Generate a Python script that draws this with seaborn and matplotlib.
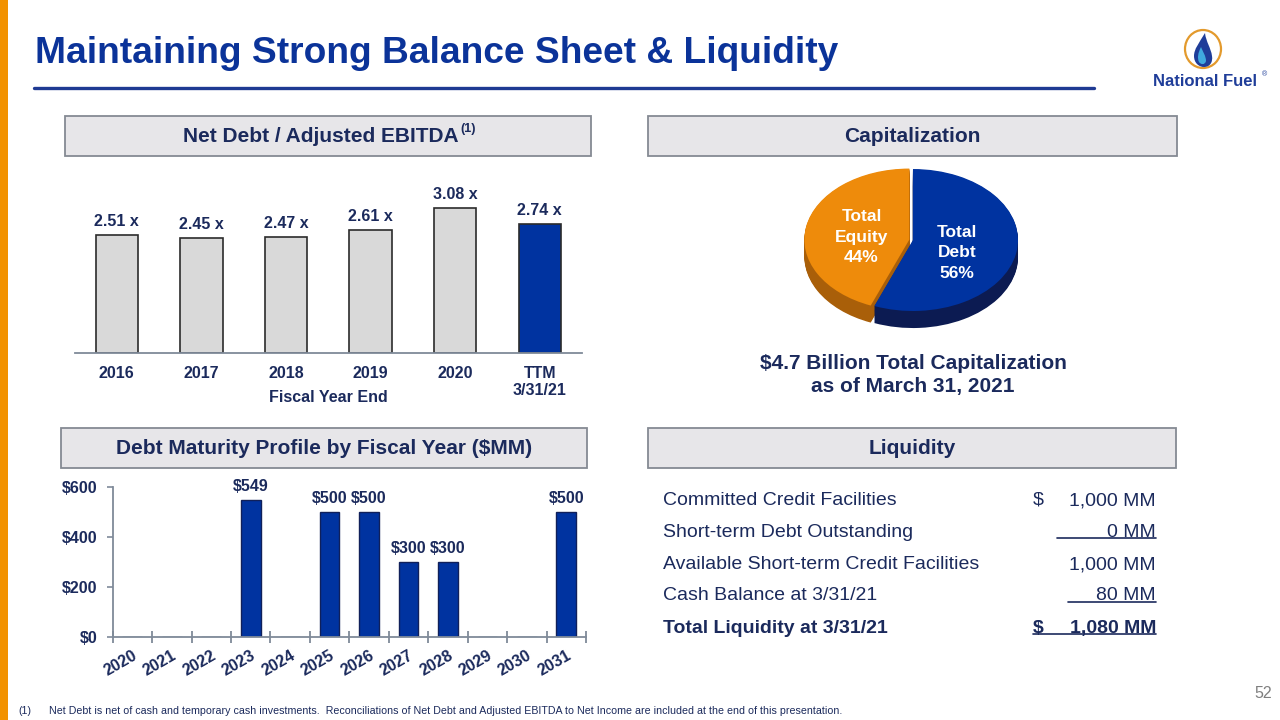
import numpy as np
import matplotlib
matplotlib.use("Agg")
import matplotlib.pyplot as plt
import seaborn as sns
from matplotlib.patches import Rectangle, Ellipse, PathPatch
from matplotlib.path import Path
from matplotlib.lines import Line2D

# --- data ---
ebitda_years = ["2016", "2017", "2018", "2019", "2020", "TTM\n3/31/21"]
ebitda_ratio = [2.51, 2.45, 2.47, 2.61, 3.08, 2.74]
ebitda_colors = ["#D9D9D9", "#D9D9D9", "#D9D9D9", "#D9D9D9", "#D9D9D9", "#0033A0"]

cap_names = ["Total\nDebt\n56%", "Total\nEquity\n44%"]
cap_share = [56, 44]

maturity_years = ["2020", "2021", "2022", "2023", "2024", "2025",
                  "2026", "2027", "2028", "2029", "2030", "2031"]
maturity_mm = [0, 0, 0, 549, 0, 500, 500, 300, 300, 0, 0, 500]
maturity_ticks = [0, 200, 400, 600]

liq_items = ["Committed Credit Facilities", "Short-term Debt Outstanding",
             "Available Short-term Credit Facilities", "Cash Balance at 3/31/21",
             "Total Liquidity at 3/31/21"]
liq_dollar = ["$", "", "", "", "$"]
liq_values = ["1,000 MM", "0 MM", "1,000 MM", "80 MM", "1,080 MM"]

NAVY = "#1B2A5C"
BLUE = "#0033A0"
TITLE_BLUE = "#0B3399"
ORANGE = "#EE8B0B"
AXIS = "#7F8A99"

sns.set_theme(style="white")
plt.rcParams["font.family"] = ["Liberation Sans", "DejaVu Sans"]

W, H = 1280, 720
fig = plt.figure(figsize=(12.8, 7.2), dpi=100)
fig.patch.set_facecolor("white")


def fx(x):
    return x / W


def fy(y):
    return 1 - y / H


def add_ax(x0, y0, x1, y1):
    return fig.add_axes([x0 / W, 1 - y1 / H, (x1 - x0) / W, (y1 - y0) / H])


def fig_line(x0, x1, y, lw=1.2, color=NAVY):
    fig.add_artist(Line2D([fx(x0), fx(x1)], [fy(y), fy(y)], color=color, lw=lw,
                          transform=fig.transFigure))


def header(x0, y0, x1, y1, text, cx=None):
    fig.add_artist(Rectangle((fx(x0), fy(y1)), (x1 - x0) / W, (y1 - y0) / H,
                             facecolor="#E7E6E9", edgecolor="#858A93", lw=1.3,
                             transform=fig.transFigure))
    fig.text(fx(cx if cx else (x0 + x1) / 2), fy((y0 + y1) / 2 + 1), text,
             ha="center", va="center", fontsize=15, fontweight="bold", color=NAVY)


# orange side strip, title, rule
fig.add_artist(Rectangle((0, 0), 8 / W, 1, facecolor="#F29200", edgecolor="none",
                         transform=fig.transFigure))
fig.text(fx(35), fy(63), "Maintaining Strong Balance Sheet & Liquidity",
         ha="left", va="baseline", fontsize=26.7, fontweight="bold", color=TITLE_BLUE)
fig_line(34, 1094, 88, lw=2.4, color="#1F3A93")

# logo
lax = add_ax(1140, 22, 1278, 98)
lax.set_xlim(1140, 1278)
lax.set_ylim(98, 22)
lax.axis("off")
lax.add_patch(Ellipse((1203, 49), 36, 38, facecolor="white", edgecolor="#E39A2D", lw=1.6))
drop = Path([(1205, 33), (1199, 43), (1194, 49), (1194, 56), (1194, 63), (1199, 67),
             (1204, 67), (1210, 67), (1213, 62), (1212, 56), (1211, 48), (1206, 42),
             (1205, 33)],
            [Path.MOVETO] + [Path.CURVE4] * 12)
lax.add_patch(PathPatch(drop, facecolor="#1F3D99", edgecolor="none"))
inner = Path([(1201, 47), (1198, 53), (1197, 58), (1199, 62), (1201, 65), (1205, 65),
              (1206, 61), (1206, 56), (1203, 52), (1201, 47)],
             [Path.MOVETO] + [Path.CURVE4] * 9)
lax.add_patch(PathPatch(inner, facecolor="#3FA9DF", edgecolor="none"))
lax.text(1205, 81, "National Fuel", ha="center", va="center", fontsize=12,
         fontweight="bold", color="#1F3D99")
lax.text(1262, 75, "®", ha="left", va="center", fontsize=5, color="#1F3D99")

# panel headers
header(65, 116, 591, 156, "Net Debt / Adjusted EBITDA", cx=321)
fig.text(fx(460), fy(129), "(1)", ha="left", va="center", fontsize=9,
         fontweight="bold", color=NAVY)
header(648, 116, 1177, 156, "Capitalization")
header(61, 428, 587, 468, "Debt Maturity Profile by Fiscal Year ($MM)")
header(648, 428, 1176, 468, "Liquidity")

# --- Net Debt / Adjusted EBITDA bars ---
ax1 = add_ax(74.5, 188.5, 582, 353)
sns.barplot(x=ebitda_years, y=ebitda_ratio, hue=ebitda_years, palette=ebitda_colors,
            legend=False, width=0.5, saturation=1, edgecolor="#2B2B2B", linewidth=1.2,
            ax=ax1)
ax1.set_xlim(-0.5, len(ebitda_years) - 0.5)
ax1.set_ylim(0, 3.5)
for s in ["top", "right", "left"]:
    ax1.spines[s].set_visible(False)
ax1.spines["bottom"].set_color(AXIS)
ax1.spines["bottom"].set_linewidth(1.3)
ax1.set_yticks([])
ax1.set_xticks(range(len(ebitda_years)))
ax1.set_xticklabels(ebitda_years, fontsize=11.5, fontweight="bold", color=NAVY)
ax1.set_xticks(np.arange(-0.5, len(ebitda_years), 1), minor=True)
ax1.tick_params(axis="x", which="major", length=0, pad=9)
ax1.tick_params(axis="x", which="minor", length=8, width=1.3, direction="inout", color=AXIS)
ax1.set_xlabel("")
for i, v in enumerate(ebitda_ratio):
    ax1.annotate(f"{v:.2f} x", (i, v), xytext=(0, 4.4), textcoords="offset points",
                 ha="center", va="bottom", fontsize=11.5, fontweight="bold", color=NAVY)
fig.text(fx(328), fy(397), "Fiscal Year End", ha="center", va="center",
         fontsize=11.5, fontweight="bold", color=NAVY)

# --- Capitalization pie (extruded to look 3D) ---
pax = add_ax(790, 150, 1040, 345)
wall_colors = ["#0C1B52", "#A95F09"]
face_colors = [BLUE, ORANGE]
for d in np.linspace(0.24, 0.01, 20):
    pax.pie(cap_share, startangle=90, counterclock=False, colors=wall_colors,
            center=(0, -d), explode=[0, 0.035], wedgeprops=dict(linewidth=0))
pax.pie(cap_share, startangle=90, counterclock=False, colors=face_colors,
        explode=[0, 0.035], wedgeprops=dict(linewidth=0))
pax.set_aspect("auto")
pax.set_xlim(-1.171, 1.2095)
pax.set_ylim(-1.479, 1.268)
pax.axis("off")
pax.text(0.42, -0.18, cap_names[0], ha="center", va="center", fontsize=12.5,
         fontweight="bold", color="white", linespacing=1.45)
pax.text(-0.49, 0.04, cap_names[1], ha="center", va="center", fontsize=12.5,
         fontweight="bold", color="white", linespacing=1.45)
fig.text(fx(913), fy(375), "$4.7 Billion Total Capitalization\nas of March 31, 2021",
         ha="center", va="center", fontsize=15, fontweight="bold", color=NAVY,
         linespacing=1.3)

# --- Debt maturity bars ---
ax3 = add_ax(112.6, 487, 586, 637)
sns.barplot(x=maturity_years, y=maturity_mm, color=BLUE, saturation=1, width=0.5,
            edgecolor="#10205A", linewidth=1, ax=ax3)
ax3.set_xlim(-0.5, len(maturity_years) - 0.5)
ax3.set_ylim(0, 600)
for s in ["top", "right"]:
    ax3.spines[s].set_visible(False)
for s in ["left", "bottom"]:
    ax3.spines[s].set_color(AXIS)
    ax3.spines[s].set_linewidth(1.3)
ax3.set_yticks(maturity_ticks)
ax3.set_yticklabels([f"${t}" for t in maturity_ticks], fontsize=11.5,
                    fontweight="bold", color=NAVY)
ax3.tick_params(axis="y", length=4, width=1.2, color=AXIS, pad=7, left=True)
ax3.set_xticks(range(len(maturity_years)))
ax3.set_xticklabels(maturity_years, fontsize=11.5, fontweight="bold", color=NAVY,
                    rotation=30, ha="right", rotation_mode="anchor")
ax3.set_xticks(np.arange(-0.5, len(maturity_years), 1), minor=True)
ax3.tick_params(axis="x", which="major", length=0, pad=8)
ax3.tick_params(axis="x", which="minor", length=8, width=1.3, direction="inout",
                color=AXIS, bottom=True)
ax3.set_xlabel("")
ax3.set_ylabel("")
for i, v in enumerate(maturity_mm):
    if v > 0:
        ax3.annotate(f"${v}", (i, v), xytext=(0, 4.4), textcoords="offset points",
                     ha="center", va="bottom", fontsize=11.5, fontweight="bold",
                     color=NAVY, annotation_clip=False)

# --- Liquidity table ---
row_y = [498, 530, 562, 593, 626]
for item, dollar, val, y, last in zip(liq_items, liq_dollar, liq_values, row_y,
                                       [False, False, False, False, True]):
    w = "bold" if last else "normal"
    base = fy(y + 7)
    fig.text(fx(663), base, item, ha="left", va="baseline", fontsize=14,
             fontweight=w, color=NAVY)
    if dollar:
        fig.text(fx(1033), base, dollar, ha="left", va="baseline", fontsize=14,
                 fontweight=w, color=NAVY)
    fig.text(fx(1156), base, val, ha="right", va="baseline", fontsize=14,
             fontweight=w, color=NAVY)
fig_line(1057, 1156, 538)
fig_line(1068, 1156, 602)
fig_line(1033, 1156, 634)

# footnote and page number
fig.text(fx(18), fy(711), "(1)", ha="left", va="center", fontsize=7.7, color=NAVY)
fig.text(fx(49), fy(711),
         "Net Debt is net of cash and temporary cash investments.  Reconciliations of "
         "Net Debt and Adjusted EBITDA to Net Income are included at the end of this "
         "presentation.", ha="left", va="center", fontsize=7.7, color=NAVY)
fig.text(fx(1272), fy(694), "52", ha="right", va="center", fontsize=11.5, color="#7F7F7F")

fig.savefig("out.png", dpi=100, facecolor="white")
plt.close(fig)
